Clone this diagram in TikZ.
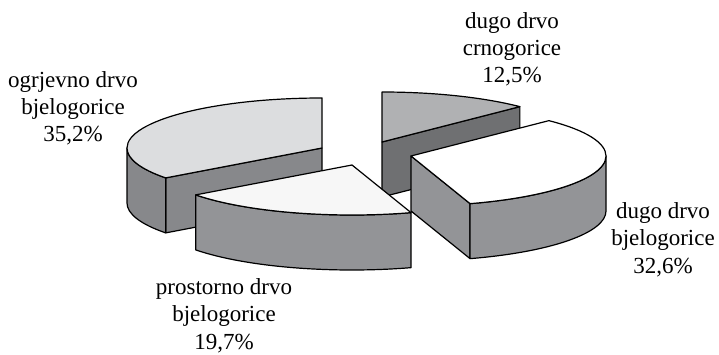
\documentclass[tikz,border=0pt]{standalone}
\usepackage{fontspec}
\setmainfont{Liberation Serif}
\usetikzlibrary{calc}
\definecolor{topA}{HTML}{DCDDDF}
\definecolor{sideA}{HTML}{87888B}
\definecolor{topB}{HTML}{B0B1B3}
\definecolor{sideB}{HTML}{6F7072}
\definecolor{sideC}{HTML}{939497}
\definecolor{topC}{HTML}{F7F7F7}
\definecolor{topD}{HTML}{FFFFFF}
\begin{document}
\begin{tikzpicture}[x=1pt,y=1pt,
  pie/.style={draw=black,line width=1.2pt,line join=round},
  er/.style={x radius=195,y radius=50},
  lbl/.style={align=center,anchor=base,inner sep=0pt,font=\fontsize{23}{27.2}\selectfont}]
\useasboundingbox (0,0) rectangle (719,-355);
\coordinate (c1) at (322,-148);
\coordinate (c2) at (382,-142);
\coordinate (c3) at (352,-165);
\coordinate (c4) at (411,-156);
% slice 2 (dugo drvo crnogorice)
\path[pie,fill=sideB] (c2) -- ++({195*cos(45)},{50*sin(45)}) -- ++(0,-55) -- ($(c2)+(0,-55)$) -- cycle;
\path[pie,fill=topB] (c2) -- ++(0,50) arc[start angle=90,end angle=45,er] -- cycle;
% slice 1 (ogrjevno drvo bjelogorice)
\path[pie,fill=sideA] (c1) -- ++({195*cos(216.72)},{50*sin(216.72)}) -- ++(0,-55) -- ($(c1)+(0,-55)$) -- cycle;
\path[pie,fill=sideA] ($(c1)+(-195,0)$) arc[start angle=180,end angle=216.72,er] -- ++(0,-55) arc[start angle=216.72,end angle=180,er] -- cycle;
\path[pie,fill=topA] (c1) -- ++(0,50) arc[start angle=90,end angle=216.72,er] -- cycle;
% slice 4 (dugo drvo bjelogorice)
\path[pie,fill=sideC] (c4) -- ++({195*cos(-72.36)},{50*sin(-72.36)}) -- ++(0,-55) -- ($(c4)+(0,-55)$) -- cycle;
\path[pie,fill=sideC] ($(c4)+(195,0)$) arc[start angle=0,end angle=-72.36,er] -- ++(0,-55) arc[start angle=-72.36,end angle=0,er] -- cycle;
\path[pie,fill=topD] (c4) -- ++({195*cos(45)},{50*sin(45)}) arc[start angle=45,end angle=-72.36,er] -- cycle;
% slice 3 (prostorno drvo bjelogorice)
\path[pie,fill=sideC] ($(c3)+({195*cos(-143.28)},{50*sin(-143.28)})$) arc[start angle=-143.28,end angle=-72.36,er] -- ++(0,-55) arc[start angle=-72.36,end angle=-143.28,er] -- cycle;
\path[pie,fill=topC] (c3) -- ++({195*cos(-143.28)},{50*sin(-143.28)}) arc[start angle=-143.28,end angle=-72.36,er] -- cycle;
% labels
\node[lbl] (l1) at (73,-142) {ogrjevno drvo\\bjelogorice\\35,2\%};
\node[lbl] (l2) at (512,-83) {dugo drvo\\crnogorice\\12,5\%};
\node[lbl] (l3) at (224,-349) {prostorno drvo\\bjelogorice\\19,7\%};
\node[lbl] (l4) at (663,-273) {dugo drvo\\bjelogorice\\32,6\%};
\end{tikzpicture}
\end{document}
